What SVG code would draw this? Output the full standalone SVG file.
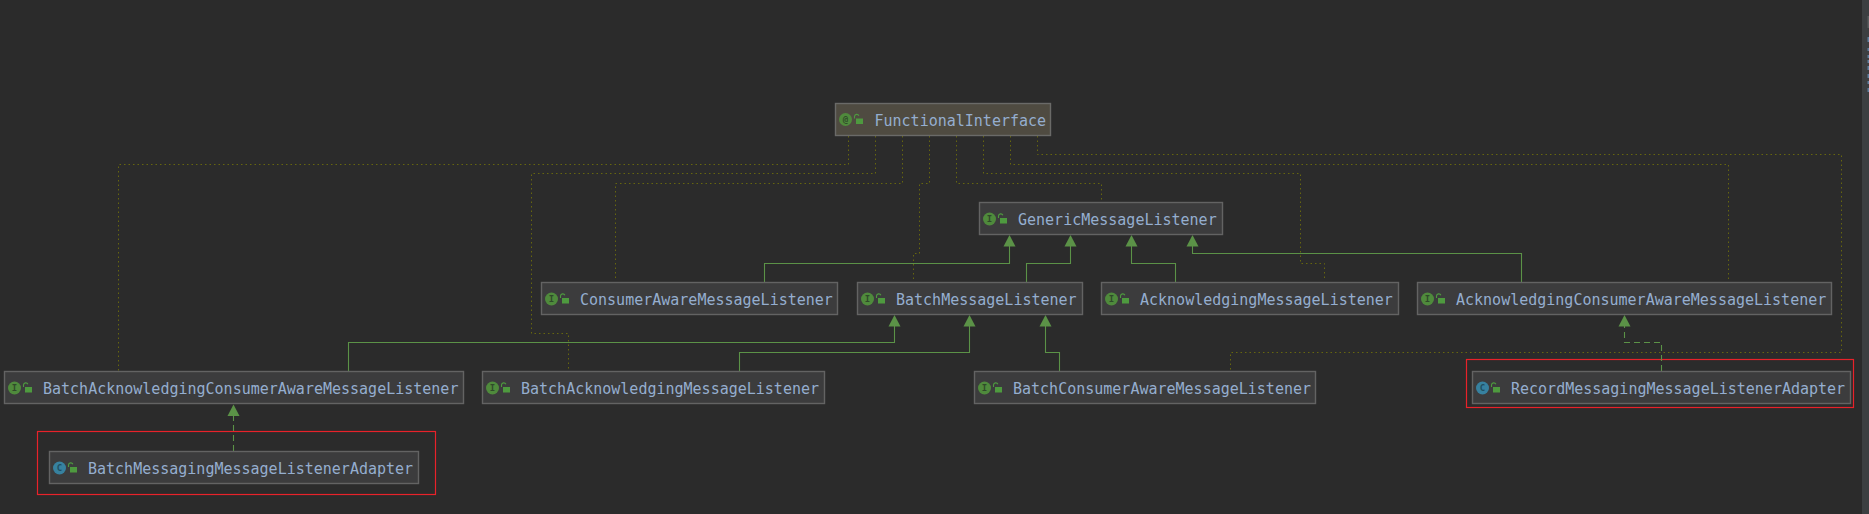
<svg xmlns="http://www.w3.org/2000/svg" width="1869" height="514" viewBox="0 0 1869 514">
<style>
.bg{fill:#2b2b2b}
.box{fill:#3c3c3d;stroke:#636363;stroke-width:1.4}
.anno{fill:#4f4b41;stroke:#6a6a68;stroke-width:1.4}
.t{font-family:"DejaVu Sans Mono","Liberation Mono",monospace;font-size:15px;fill:#95aecf}
.ic{font-family:"DejaVu Sans Mono","Liberation Mono",monospace;font-size:9px;font-weight:bold;text-anchor:middle;fill:#2f4a2a}
.ci{fill:#4f8a3c}
.cc{fill:#37819f}
.lock{fill:#4e9a3f}
.sh{fill:none;stroke:#4e9a3f;stroke-width:1.1}
.dot{fill:none;stroke:#66660f;stroke-width:1;stroke-dasharray:1.5 3}
.ext{fill:none;stroke:#5b9247;stroke-width:1.1}
.imp{fill:none;stroke:#5b9247;stroke-width:1.1;stroke-dasharray:6 4}
.red{fill:none;stroke:#e8222a;stroke-width:1.2}
.ah{fill:#5b9247}
</style>
<defs>
<g id="lk"><path class="sh" d="M-3.5 -1.5V-3.6a2.3 2.3 0 0 1 4.4 -0.6"/><rect class="lock" x="-2" y="-1.5" width="7" height="5.5"/></g>
<path id="tri" class="ah" d="M0 0L6 11.5H-6Z"/>
</defs>
<rect class="bg" width="1869" height="514"/>
<rect x="1862" y="0" width="7" height="514" fill="#3c3f41"/>
<g fill="#5f7f9f">
<rect x="1867.5" y="16" width="1.5" height="12" fill="#5a5d5f"/>
<rect x="1867.5" y="37" width="1.5" height="5"/><rect x="1867.5" y="48" width="1.5" height="3"/><rect x="1867.5" y="55" width="1.5" height="3"/><rect x="1867.5" y="60" width="1.5" height="3"/><rect x="1867.5" y="66" width="1.5" height="4"/><rect x="1867.5" y="74" width="1.5" height="4"/><rect x="1867.5" y="81" width="1.5" height="3"/><rect x="1867.5" y="88" width="1.5" height="4"/>
</g>
<rect class="red" x="37.5" y="431.5" width="398" height="63"/>
<rect class="red" x="1466.5" y="359.5" width="387" height="48"/>
<g id="connectors">
<path class="dot" d="M848.5 136V164.5H118.5V371"/>
<path class="dot" d="M875.5 136V173.5H531.5V333.5H568.5V371"/>
<path class="dot" d="M902.5 136V183.5H615.5V281"/>
<path class="dot" d="M929.5 136V183.5H919.5V253.5H913.5V281"/>
<path class="dot" d="M956.5 136V183.5H1101.5V201"/>
<path class="dot" d="M983.5 136V173.5H1300.5V263.5H1324.5V281"/>
<path class="dot" d="M1010.5 136V164.5H1728.5V281"/>
<path class="dot" d="M1037.5 136V154.5H1841.5V352.5H1230.5V371"/>
<path class="ext" d="M764.5 282V263.5H1009.5V245"/>
<path class="ext" d="M1026.5 282V263.5H1070.5V245"/>
<path class="ext" d="M1175.5 282V263.5H1131.5V245"/>
<path class="ext" d="M1521.5 282V253.5H1192.5V245"/>
<path class="ext" d="M348.5 371V342.5H894.5V325"/>
<path class="ext" d="M739.5 371V352.5H969.5V325"/>
<path class="ext" d="M1059.5 371V352.5H1045.5V325"/>
<path class="imp" d="M233.5 451V415"/>
<path class="imp" d="M1661.5 371V342.5H1624.5V326"/>
<use href="#tri" x="1009.5" y="235"/><use href="#tri" x="1070.5" y="235"/><use href="#tri" x="1131.5" y="235"/><use href="#tri" x="1192.5" y="235"/>
<use href="#tri" x="894.5" y="315"/><use href="#tri" x="969.5" y="315"/><use href="#tri" x="1045.5" y="315"/><use href="#tri" x="1624.5" y="315"/>
<use href="#tri" x="233.5" y="404.5"/>
</g>
<g id="FunctionalInterface"><rect class="anno" x="835.5" y="103.5" width="215" height="32"/><circle class="ci" cx="845.5" cy="119.5" r="6.5"/><text class="ic" x="845.5" y="122.5">@</text><use href="#lk" x="858" y="120"/><text class="t" x="874.5" y="125.5">FunctionalInterface</text></g>
<g id="GenericMessageListener"><rect class="box" x="979.5" y="202.5" width="243" height="32"/><circle class="ci" cx="989.5" cy="219" r="6.5"/><text class="ic" x="989.5" y="222">I</text><use href="#lk" x="1002" y="219.5"/><text class="t" x="1018" y="224.5">GenericMessageListener</text></g>
<g id="ConsumerAwareMessageListener"><rect class="box" x="541.5" y="282.5" width="296" height="32"/><circle class="ci" cx="551.5" cy="299" r="6.5"/><text class="ic" x="551.5" y="302">I</text><use href="#lk" x="564" y="299.5"/><text class="t" x="580" y="304.5">ConsumerAwareMessageListener</text></g>
<g id="BatchMessageListener"><rect class="box" x="857.5" y="282.5" width="225" height="32"/><circle class="ci" cx="867.5" cy="299" r="6.5"/><text class="ic" x="867.5" y="302">I</text><use href="#lk" x="880" y="299.5"/><text class="t" x="896" y="304.5">BatchMessageListener</text></g>
<g id="AcknowledgingMessageListener"><rect class="box" x="1101.5" y="282.5" width="297" height="32"/><circle class="ci" cx="1111.5" cy="299" r="6.5"/><text class="ic" x="1111.5" y="302">I</text><use href="#lk" x="1124" y="299.5"/><text class="t" x="1140" y="304.5">AcknowledgingMessageListener</text></g>
<g id="AcknowledgingConsumerAwareMessageListener"><rect class="box" x="1417.5" y="282.5" width="414" height="32"/><circle class="ci" cx="1427.5" cy="299" r="6.5"/><text class="ic" x="1427.5" y="302">I</text><use href="#lk" x="1440" y="299.5"/><text class="t" x="1456" y="304.5">AcknowledgingConsumerAwareMessageListener</text></g>
<g id="BatchAcknowledgingConsumerAwareMessageListener"><rect class="box" x="4.5" y="371.5" width="459" height="32"/><circle class="ci" cx="14.5" cy="388" r="6.5"/><text class="ic" x="14.5" y="391">I</text><use href="#lk" x="27" y="388.5"/><text class="t" x="43" y="393.5">BatchAcknowledgingConsumerAwareMessageListener</text></g>
<g id="BatchAcknowledgingMessageListener"><rect class="box" x="482.5" y="371.5" width="342" height="32"/><circle class="ci" cx="492.5" cy="388" r="6.5"/><text class="ic" x="492.5" y="391">I</text><use href="#lk" x="505" y="388.5"/><text class="t" x="521" y="393.5">BatchAcknowledgingMessageListener</text></g>
<g id="BatchConsumerAwareMessageListener"><rect class="box" x="974.5" y="371.5" width="341" height="32"/><circle class="ci" cx="984.5" cy="388" r="6.5"/><text class="ic" x="984.5" y="391">I</text><use href="#lk" x="997" y="388.5"/><text class="t" x="1013" y="393.5">BatchConsumerAwareMessageListener</text></g>
<g id="RecordMessagingMessageListenerAdapter"><rect class="box" x="1472.5" y="371.5" width="378" height="32"/><circle class="cc" cx="1482.5" cy="388" r="6.5"/><text class="ic" style="fill:#1f4f62" x="1482.5" y="391">C</text><use href="#lk" x="1495" y="388.5"/><text class="t" x="1511" y="393.5">RecordMessagingMessageListenerAdapter</text></g>
<g id="BatchMessagingMessageListenerAdapter"><rect class="box" x="49.5" y="451.5" width="369" height="32"/><circle class="cc" cx="59.5" cy="468" r="6.5"/><text class="ic" style="fill:#1f4f62" x="59.5" y="471">C</text><use href="#lk" x="72" y="468.5"/><text class="t" x="88" y="473.5">BatchMessagingMessageListenerAdapter</text></g>
</svg>
